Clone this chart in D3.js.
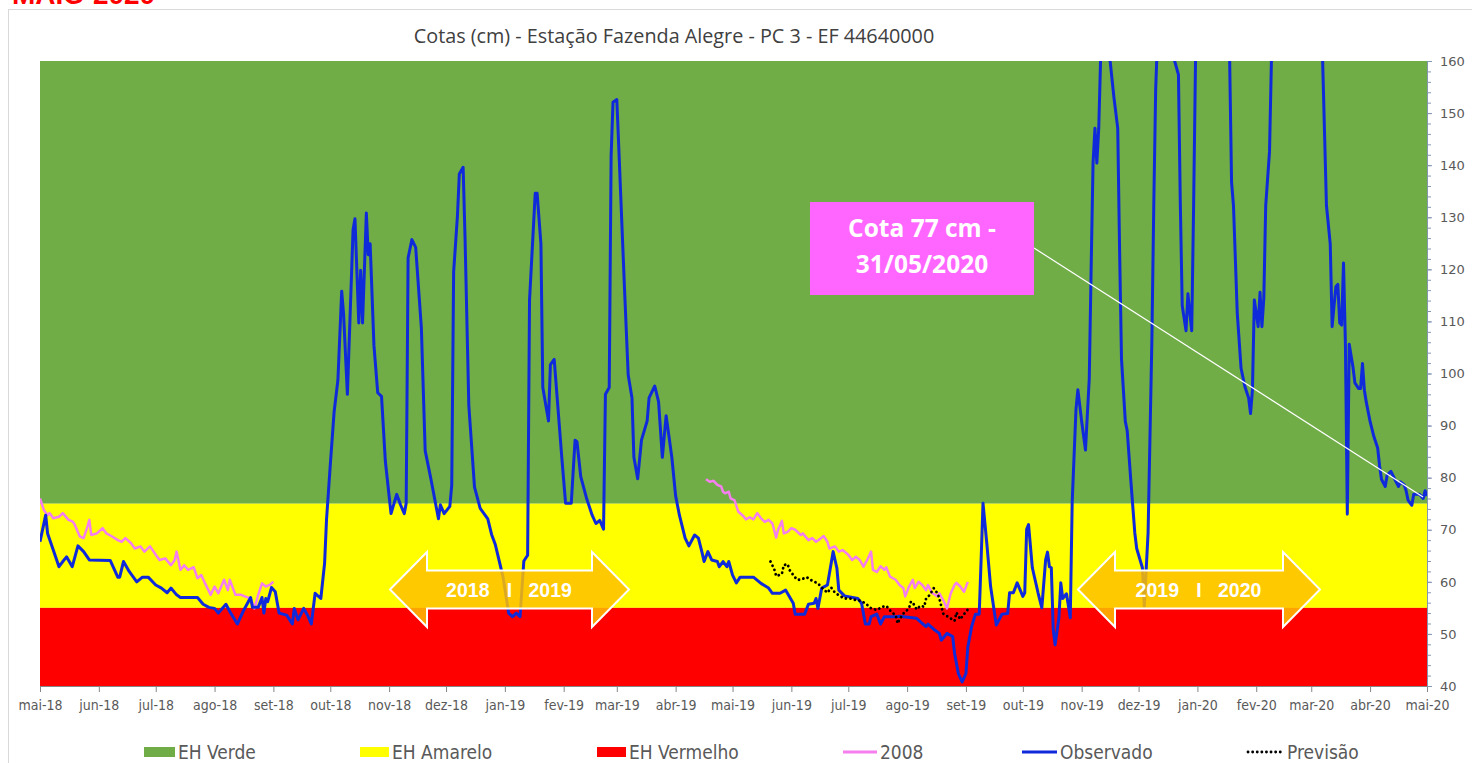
<!DOCTYPE html>
<html>
<head>
<meta charset="utf-8">
<script src="https://cdn.jsdelivr.net/npm/d3@7"></script>
<style>
  body { margin: 0; background: #fff; }
  svg { display: block; }
</style>
</head>
<body>
<script>
const width = 1472;
const height = 763;

// Estados hidrologicos (faixas de cota, cm)
const bandNames = ['EH Verde', 'EH Amarelo', 'EH Vermelho'];
const bandTop = [160, 75, 55];
const bandBottom = [75, 55, 40];
const bandColors = ['#70AD47', '#FFFF00', '#FF0000'];

const yTicks = [40, 50, 60, 70, 80, 90, 100, 110, 120, 130, 140, 150, 160];
const monthLabels = ['mai-18', 'jun-18', 'jul-18', 'ago-18', 'set-18', 'out-18', 'nov-18', 'dez-18',
  'jan-19', 'fev-19', 'mar-19', 'abr-19', 'mai-19', 'jun-19', 'jul-19', 'ago-19', 'set-19',
  'out-19', 'nov-19', 'dez-19', 'jan-20', 'fev-20', 'mar-20', 'abr-20', 'mai-20'];

// Observado: dias contados a partir de 01/05/2018, cota em cm
const obsDay = [0, 3, 4, 7, 10, 12, 14, 17, 20, 23, 26, 37, 41, 42, 44, 47, 51, 54, 57, 61, 64, 67, 69, 72, 74,
  83, 86, 89, 92, 94, 98, 100, 104, 107, 111, 112, 115, 117, 118, 119, 120, 122, 124, 126, 130, 133, 134, 136,
  139, 141, 143, 145, 148, 150, 151, 153, 155, 157, 159, 160, 162, 165, 166, 168, 169, 170, 172, 173, 174, 176,
  178, 180, 182, 185, 188, 190, 192, 193, 194, 196, 198, 201, 203, 206, 210, 211, 213, 216, 217, 218, 220, 221,
  223, 224, 226, 229, 232, 236, 238, 240, 244, 247, 249, 251, 253, 255, 257, 258, 261, 262, 264, 265, 268, 269,
  271, 273, 275, 277, 280, 282, 283, 285, 288, 291, 293, 295, 297, 298, 300, 301, 302, 304, 305, 308, 310, 312,
  313, 315, 317, 320, 321, 324, 326, 328, 330, 333, 335, 337, 340, 342, 345, 347, 349, 350, 352, 354, 357, 358,
  360, 362, 363, 365, 367, 369, 376, 380, 384, 386, 390, 393, 397, 398, 403, 405, 408, 409, 410, 412, 415, 417,
  418, 420, 421, 424, 431, 433, 435, 437, 438, 441, 443, 445, 451, 453, 462, 465, 467, 468, 471, 474, 475, 478,
  481, 482, 484, 486, 488, 489, 491, 493, 495, 496, 497, 499, 501, 504, 507, 510, 511, 513, 515, 518, 519, 520,
  521, 523, 526, 528, 530, 531, 532, 533, 534, 535, 537, 538, 539, 541, 543, 544, 546, 547, 549, 551, 553, 554,
  555, 556, 557, 558, 559, 561, 563, 564, 566, 568, 569, 570, 572, 573, 575, 577, 578, 581, 582, 584, 586, 587,
  588, 590, 593, 596, 598, 600, 601, 602, 604, 605, 607, 608, 609, 612, 618, 624, 627, 628, 629, 631, 633, 635,
  637, 638, 639, 640, 641, 642, 643, 644, 645, 646, 648, 649, 654, 662, 670, 676, 678, 680, 681, 682, 683, 684,
  685, 686, 687, 688, 689, 690, 692, 693, 695, 696, 697, 698, 699, 701, 703, 705, 706, 707, 709, 710, 712, 714,
  716, 717, 719, 720, 721, 723, 724, 727, 729, 730, 731];
const obsCota = [67.7, 72.8, 69.3, 66.1, 62.9, 63.9, 64.8, 62.9, 66.9, 65.8, 64.2, 64.1, 60.9, 60.9, 63.9, 62.0,
  60.0, 60.9, 60.9, 59.4, 58.8, 57.9, 58.8, 57.5, 57.0, 57.0, 55.7, 55.1, 54.9, 54.0, 55.7, 54.3, 51.9, 54.3,
  57.0, 55.1, 55.1, 57.0, 54.0, 56.8, 56.2, 58.9, 58.1, 54.0, 53.6, 51.9, 54.9, 52.7, 54.9, 53.6, 51.9, 57.8,
  56.8, 63.6, 71.9, 82.5, 92.6, 98.7, 115.8, 111.4, 96.0, 127.6, 129.7, 109.7, 119.8, 109.7, 130.8, 122.8, 124.9,
  105.4, 96.3, 95.6, 83.2, 73.1, 76.8, 74.8, 73.1, 75.1, 122.2, 125.7, 124.2, 108.7, 85.2, 79.8, 72.1, 74.8, 73.1,
  74.5, 78.5, 119.5, 130.2, 138.3, 139.6, 126.2, 93.9, 78.2, 74.1, 72.1, 69.1, 67.1, 61.0, 54.0, 53.3, 54.0, 53.3,
  64.0, 65.1, 114.1, 134.6, 134.6, 124.9, 97.3, 90.9, 101.7, 102.7, 93.3, 83.9, 75.1, 75.1, 87.2, 86.9, 80.2,
  76.1, 72.8, 71.2, 71.8, 70.1, 96.0, 97.3, 141.7, 152.1, 152.6, 143.7, 116.8, 99.7, 95.3, 83.9, 79.8, 87.2,
  90.9, 95.3, 97.6, 94.6, 83.9, 91.9, 83.9, 76.5, 72.8, 68.4, 66.9, 69.0, 68.4, 65.5, 63.9, 65.8, 64.2, 63.9,
  62.9, 63.9, 62.9, 63.9, 61.3, 59.8, 60.9, 60.9, 59.7, 58.8, 57.8, 57.8, 58.4, 55.9, 53.8, 53.8, 55.7, 55.9,
  56.8, 54.9, 58.8, 59.4, 63.6, 65.8, 62.6, 58.4, 57.3, 56.8, 55.9, 51.9, 51.9, 53.3, 53.8, 51.9, 53.3, 53.3,
  53.4, 53.0, 52.0, 51.4, 51.9, 50.9, 50.1, 48.8, 50.1, 49.5, 46.3, 42.4, 40.8, 42.4, 47.5, 51.4, 53.8, 53.8,
  64.2, 75.1, 67.4, 59.1, 51.7, 53.8, 53.9, 57.9, 57.9, 59.8, 57.2, 57.9, 70.1, 71.0, 62.7, 57.9, 55.0, 64.2,
  65.7, 62.9, 62.7, 50.9, 47.9, 53.1, 59.8, 56.8, 57.7, 53.1, 75.3, 93.1, 96.9, 90.8, 85.3, 99.0, 120.4, 140.4,
  147.1, 140.4, 147.1, 160.7, 178, 172, 160, 153, 147.1, 123.4, 102.7, 90.8, 89.0, 79.0, 69.4, 66.4, 62.7, 55.3,
  69.4, 106.4, 132.3, 154.5, 175, 190, 178, 160, 157.4, 132.3, 113.0, 108.2, 115.3, 108.2, 132.3, 160, 185, 205,
  180, 160, 136.7, 132.3, 111.6, 101.0, 97.5, 95.3, 92.3, 96.8, 114.1, 111.6, 109.0, 115.6, 109.0, 114.5, 132.3,
  142.6, 160, 190, 210, 195, 160, 132.3, 124.9, 109.0, 113.0, 116.7, 117.1, 109.7, 109.3, 121.2, 105.6, 73.0,
  105.6, 101.2, 98.2, 97.1, 97.1, 101.9, 96.8, 94.5, 90.8, 87.9, 85.7, 82.3, 79.7, 78.3, 80.5, 81.2, 79.7, 78.3,
  79.2, 78.6, 77.5, 75.7, 74.7, 76.8, 76.8, 76.0, 77.5, 76.5];

// Serie de 2008 (dois trechos, null = interrupcao)
const y2008Day = [0, 2, 4, 5, 7, 10, 12, 15, 17, 18, 21, 23, 25, 26, 27, 30, 33, 35, 38, 41, 43, 45, 48, 50, 53,
  55, 58, 61, 63, 66, 69, 71, 72, 74, 76, 78, 81, 83, 85, 87, 90, 92, 94, 97, 99, 100, 103, 106, 108, 111, 113,
  115, 117, 119, 121, 123, null,
  351, 353, 355, 357, 359, 360, 361, 363, 364, 366, 368, 371, 372, 374, 376, 378, 380, 382, 384, 386, 388, 389,
  391, 392, 394, 396, 398, 401, 402, 405, 407, 409, 411, 413, 415, 416, 419, 421, 423, 426, 428, 430, 432, 434,
  436, 438, 439, 441, 443, 445, 446, 448, 451, 453, 455, 456, 458, 460, 461, 463, 465, 467, 468, 470, 473, 474,
  476, 478, 480, 482, 483, 485, 487, 489];
const y2008Cota = [76.0, 73.8, 72.8, 73.2, 72.2, 72.5, 73.2, 71.9, 71.6, 71.2, 68.7, 68.4, 70.6, 71.9, 69.0, 69.3,
  70.3, 69.3, 68.7, 68.0, 67.7, 68.4, 67.4, 66.4, 66.8, 65.8, 66.8, 65.2, 64.2, 64.5, 63.2, 64.2, 65.8, 62.3,
  63.2, 62.3, 62.8, 60.7, 61.3, 59.7, 57.5, 59.1, 57.8, 60.4, 58.4, 60.4, 57.5, 57.5, 57.2, 56.8, 54.9, 57.5,
  59.7, 59.1, 59.4, 60.0, null,
  79.7, 79.2, 79.4, 78.6, 78.3, 77.3, 77.0, 77.3, 76.0, 75.7, 73.5, 72.5, 72.0, 72.4, 72.0, 73.2, 72.2, 71.5,
  71.9, 71.2, 68.5, 70.0, 71.7, 69.3, 69.6, 70.3, 70.0, 69.0, 69.3, 68.0, 68.4, 67.7, 68.2, 68.8, 67.7, 66.4,
  66.8, 65.8, 66.1, 65.2, 64.2, 64.8, 64.2, 62.9, 64.2, 65.8, 62.3, 61.9, 63.0, 62.3, 62.8, 61.0, 60.4, 59.4,
  58.8, 57.2, 59.1, 60.4, 58.8, 60.0, 59.4, 58.4, 59.4, 57.9, 57.2, 57.8, 56.5, 54.9, 57.8, 59.4, 59.8, 59.1,
  58.1, 60.0];

// Previsao
const prevDay = [385, 387, 388, 391, 392, 394, 395, 397, 399, 401, 404, 407, 410, 412, 415, 417, 419, 422, 424,
  427, 430, 432, 435, 438, 441, 444, 446, 449, 451, 452, 453, 455, 458, 459, 460, 462, 464, 466, 467, 469, 471,
  473, 474, 476, 479, 482, 483, 485, 487, 489];
const prevCota = [63.9, 62.4, 61.1, 61.5, 63.2, 63.4, 62.3, 61.3, 60.4, 60.4, 60.9, 60.2, 59.7, 58.9, 57.9, 58.9,
  57.9, 57.2, 56.8, 56.8, 56.5, 56.4, 55.9, 54.9, 54.6, 55.2, 55.4, 54.1, 53.6, 52.0, 52.8, 53.9, 54.9, 56.2,
  56.0, 54.7, 55.4, 55.2, 56.8, 57.5, 58.8, 57.8, 56.8, 53.9, 53.2, 52.5, 54.1, 52.8, 53.8, 54.7];

const start = new Date(2018, 4, 1);
const end = new Date(2020, 4, 1);
const toDate = d => d3.timeDay.offset(start, d);

const obsData = obsDay.map((d, i) => ({ date: toDate(d), v: obsCota[i] }));
const data2008 = y2008Day.map((d, i) => ({ date: d === null ? null : toDate(d), v: y2008Cota[i] }));
const prevData = prevDay.map((d, i) => ({ date: toDate(d), v: prevCota[i] }));

const plot = { left: 40, right: 1427, top: 61, bottom: 686 };
const narrow = '"Liberation Sans Narrow", "DejaVu Sans Condensed", sans-serif';

const svg = d3.select('body').append('svg')
  .attr('width', width)
  .attr('height', height);

// moldura e titulo do boletim (cortado no topo, como no original)
svg.append('rect')
  .attr('x', 8.5).attr('y', 9.5)
  .attr('width', 1500).attr('height', 800)
  .attr('fill', 'none').attr('stroke', '#D9D9D9');

svg.append('text')
  .attr('x', 12).attr('y', 4)
  .attr('font-family', '"Liberation Sans", Arial, sans-serif')
  .attr('font-weight', 'bold').attr('font-size', 28)
  .attr('fill', '#FF0000')
  .text('MAIO 2020');

svg.append('text')
  .attr('x', 674).attr('y', 43)
  .attr('text-anchor', 'middle')
  .attr('font-family', '"Open Sans", sans-serif')
  .attr('font-size', 19.8)
  .attr('fill', '#404040')
  .text('Cotas (cm) - Estação Fazenda Alegre - PC 3 - EF 44640000');

const x = d3.scaleTime().domain([start, end]).range([plot.left, plot.right]);
const y = d3.scaleLinear().domain([40, 160]).range([plot.bottom, plot.top]);

// faixas
svg.selectAll('.band')
  .data(bandNames)
  .enter().append('rect')
  .attr('class', 'band')
  .attr('x', plot.left)
  .attr('width', plot.right - plot.left)
  .attr('y', (d, i) => y(bandTop[i]))
  .attr('height', (d, i) => y(bandBottom[i]) - y(bandTop[i]))
  .attr('fill', (d, i) => bandColors[i]);

svg.append('clipPath').attr('id', 'clip')
  .append('rect')
  .attr('x', plot.left).attr('y', plot.top)
  .attr('width', plot.right - plot.left).attr('height', plot.bottom - plot.top);

const line = d3.line()
  .defined(d => d.date !== null)
  .x(d => x(d.date))
  .y(d => y(d.v));

const lines = svg.append('g').attr('clip-path', 'url(#clip)');

lines.append('path')
  .datum(data2008)
  .attr('d', line)
  .attr('fill', 'none')
  .attr('stroke', '#F57FEF')
  .attr('stroke-width', 2.5)
  .attr('stroke-linejoin', 'round');

lines.append('path')
  .datum(obsData)
  .attr('d', line)
  .attr('fill', 'none')
  .attr('stroke', '#0F2ADB')
  .attr('stroke-width', 3)
  .attr('stroke-linejoin', 'round');

lines.append('path')
  .datum(prevData)
  .attr('d', line)
  .attr('fill', 'none')
  .attr('stroke', '#000')
  .attr('stroke-width', 2.8)
  .attr('stroke-linecap', 'round')
  .attr('stroke-dasharray', '0.1 4.5');

// eixo x
const months = d3.timeMonth.range(start, d3.timeDay.offset(end, 1));
const xAxis = svg.append('g')
  .attr('transform', `translate(0,${plot.bottom})`)
  .call(d3.axisBottom(x)
    .tickValues(months)
    .tickFormat((d, i) => monthLabels[i])
    .tickSizeInner(6).tickSizeOuter(0).tickPadding(8));
xAxis.select('.domain').attr('stroke', '#868686');
xAxis.selectAll('.tick line').attr('stroke', '#868686');
xAxis.selectAll('text')
  .attr('font-family', narrow)
  .attr('font-size', 14)
  .attr('fill', '#595959');

// eixo y a direita, com marcas secundarias
const yMinor = svg.append('g')
  .attr('transform', `translate(${plot.right},0)`)
  .call(d3.axisRight(y).tickValues(d3.range(40, 161, 2)).tickSize(4).tickFormat(''));
yMinor.select('.domain').remove();
yMinor.selectAll('line').attr('stroke', '#8497B0');

const yAxis = svg.append('g')
  .attr('transform', `translate(${plot.right},0)`)
  .call(d3.axisRight(y).tickValues(yTicks).tickSizeInner(5).tickSizeOuter(0).tickPadding(8));
yAxis.select('.domain').attr('stroke', '#8497B0');
yAxis.selectAll('.tick line').attr('stroke', '#8497B0');
yAxis.selectAll('text')
  .attr('font-family', '"DejaVu Sans", sans-serif')
  .attr('font-size', 13)
  .attr('fill', '#595959');

// setas de ano hidrologico
const arrowLabels = [['2018', '2019'], ['2019', '2020']];
const arrowSpans = [[390, 629], [1078, 1320]];
const arrowY = 589.5;
const arrowPath = (x0, x1) => {
  const hl = 37, sh = 19, hh = 37.5;
  return `M${x0},${arrowY} L${x0 + hl},${arrowY - hh} L${x0 + hl},${arrowY - sh} L${x1 - hl},${arrowY - sh}` +
    ` L${x1 - hl},${arrowY - hh} L${x1},${arrowY} L${x1 - hl},${arrowY + hh} L${x1 - hl},${arrowY + sh}` +
    ` L${x0 + hl},${arrowY + sh} L${x0 + hl},${arrowY + hh} Z`;
};
const arrows = svg.selectAll('.arrow')
  .data(arrowLabels)
  .enter().append('g').attr('class', 'arrow');
arrows.append('path')
  .attr('d', (d, i) => arrowPath(arrowSpans[i][0], arrowSpans[i][1]))
  .attr('fill', '#FFC000')
  .attr('fill-opacity', 0.85)
  .attr('stroke', '#fff')
  .attr('stroke-width', 2);
const arrowText = (sel, dx, anchor, fn) => sel.append('text')
  .attr('x', (d, i) => (arrowSpans[i][0] + arrowSpans[i][1]) / 2 + dx)
  .attr('y', arrowY + 7.5)
  .attr('text-anchor', anchor)
  .attr('font-family', '"Liberation Sans", Arial, sans-serif')
  .attr('font-weight', 'bold')
  .attr('font-size', 19.5)
  .attr('fill', '#fff')
  .text(fn);
arrowText(arrows, -20, 'end', d => d[0]);
arrowText(arrows, 0, 'middle', () => 'I');
arrowText(arrows, 19, 'start', d => d[1]);

// caixa de anotacao
const last = obsData[obsData.length - 1];
svg.append('line')
  .attr('x1', 1034).attr('y1', 248)
  .attr('x2', x(last.date) - 4).attr('y2', y(last.v) + 1)
  .attr('stroke', '#fff').attr('stroke-width', 1.2);
svg.append('rect')
  .attr('x', 810).attr('y', 202)
  .attr('width', 224).attr('height', 93)
  .attr('fill', '#FF66FF');
const noteLines = ['Cota 77 cm -', '31/05/2020'];
svg.selectAll('.note')
  .data(noteLines)
  .enter().append('text')
  .attr('class', 'note')
  .attr('x', 922)
  .attr('y', (d, i) => 237 + i * 36)
  .attr('text-anchor', 'middle')
  .attr('font-family', '"Open Sans", sans-serif')
  .attr('font-weight', 'bold')
  .attr('font-size', 24.5)
  .attr('fill', '#fff')
  .text(d => d);

// legenda
const legendNames = ['EH Verde', 'EH Amarelo', 'EH Vermelho', '2008', 'Observado', 'Previsão'];
const legendX = [144, 360, 597, 843, 1022, 1248];
const legendW = [31, 29, 29, 34, 35, 36];
const legendY = 752;
const legend = svg.selectAll('.legend')
  .data(legendNames)
  .enter().append('g').attr('class', 'legend');
legend.filter((d, i) => i < 3).append('rect')
  .attr('x', (d, i) => legendX[i])
  .attr('y', legendY - 5)
  .attr('width', (d, i) => legendW[i])
  .attr('height', 10)
  .attr('fill', (d, i) => bandColors[i]);
const lineStyles = [
  { c: '#F57FEF', dash: null },
  { c: '#0F2ADB', dash: null },
  { c: '#000', dash: '0.1 4.5' }
];
legend.filter((d, i) => i >= 3).append('line')
  .attr('x1', (d, i) => legendX[i + 3])
  .attr('x2', (d, i) => legendX[i + 3] + legendW[i + 3])
  .attr('y1', legendY).attr('y2', legendY)
  .attr('stroke', (d, i) => lineStyles[i].c)
  .attr('stroke-width', 2.8)
  .attr('stroke-linecap', (d, i) => lineStyles[i].dash ? 'round' : 'butt')
  .attr('stroke-dasharray', (d, i) => lineStyles[i].dash);
legend.append('text')
  .attr('x', (d, i) => legendX[i] + legendW[i] + 3)
  .attr('y', legendY + 7)
  .attr('font-family', narrow)
  .attr('font-size', 19)
  .attr('fill', '#595959')
  .text(d => d);
</script>
</body>
</html>
